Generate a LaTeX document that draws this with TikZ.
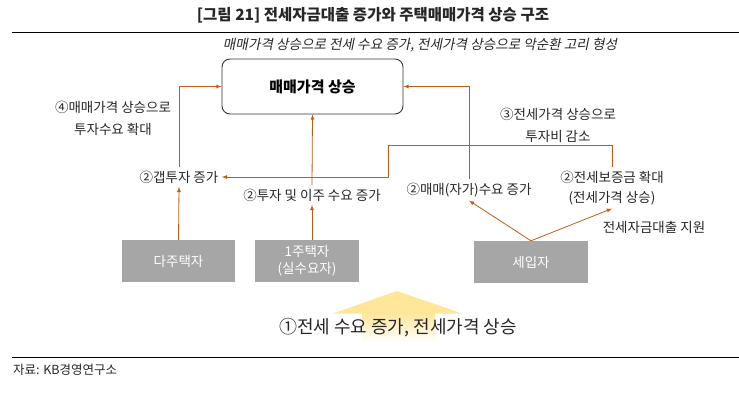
\documentclass[tikz,border=0pt]{standalone}
\usepackage{fontspec}
\setmainfont{Noto Sans CJK KR}
\newfontfamily\slfont[FakeSlant=0.2]{Noto Sans CJK KR}
\usepackage{tikz}
\usetikzlibrary{shapes.geometric, arrows}
\definecolor{lineorange}{RGB}{197,90,17}
\definecolor{boxgray}{RGB}{166,166,166}
\definecolor{upyellow}{RGB}{255,230,153}
\tikzstyle{arrow} = [->,>=latex,draw=lineorange,line width=0.8pt]
\tikzstyle{graybox} = [fill=boxgray,text=white,minimum height=42pt,inner sep=0pt,align=center,font=\fontsize{13.5}{17}\selectfont]
\tikzstyle{lbl} = [text=black!85,align=center,font=\fontsize{13.5}{22}\selectfont]

\begin{document}
\begin{tikzpicture}[x=1pt,y=-1pt]
\useasboundingbox (0,0) rectangle (739,402);
\node[text=black!85,font=\bfseries\fontsize{15.5}{18}\selectfont] (title) at (373,15) {[그림 21] 전세자금대출 증가와 주택매매가격 상승 구조};
\draw[line width=1pt] (12,32) -- (739,32);
\node[text=black!85,font=\slfont\fontsize{13.6}{15}\selectfont] (sub) at (420,45) {매매가격 상승으로 전세 수요 증가, 전세가격 상승으로 악순환 고리 형성};
\node[draw=black!80,line width=0.9pt,rounded corners=8pt,minimum width=181pt,minimum height=55pt,font=\bfseries\fontsize{15}{16}\selectfont] (price) at (312.5,86.5) {매매가격 상승};
\node[lbl] (invlbl) at (113,118) {④매매가격 상승으로\\투자수요 확대};
\node[lbl] (costlbl) at (558,125) {③전세가격 상승으로\\투자비 감소};
\node[lbl] (gap) at (179,177) {②갭투자 증가};
\node[lbl] (invest) at (312,195) {②투자 및 이주 수요 증가};
\node[lbl] (buy) at (469,190) {②매매(자가)수요 증가};
\node[lbl,font=\fontsize{13.5}{20}\selectfont] (deposit) at (612,188) {②전세보증금 확대\\(전세가격 상승)};
\node[lbl] (loanlbl) at (654,227) {전세자금대출 지원};
\node[graybox,minimum width=113pt] (multi) at (178.5,261) {다주택자};
\node[graybox,minimum width=104pt] (one) at (307,261) {1주택자\\(실수요자)};
\node[graybox,minimum width=114pt] (tenant) at (531,262) {세입자};
\coordinate (bend) at (388,145);
% 순환 화살표
\draw[arrow] (gap.north) |- (price.west);
\draw[arrow] (multi.north) -- (gap.south);
\draw[arrow] (invest.north) -- (price.south);
\draw[arrow] (one.north -| invest.south) -- (invest.south);
\draw[arrow] (deposit.north) |- (bend) |- (gap.east);
\draw[arrow] (buy.north) |- (price.east);
\draw[arrow] (tenant.north) -- (buy.south);
\draw[arrow] (tenant.north) -- (deposit.south);
% 아래 노란 화살표
\fill[upyellow] (397,291) -- (462,313.5) -- (333,313.5) -- cycle;
\shade[top color=upyellow,bottom color=white] (362,313) rectangle (435,342);
\node[text=black!85,font=\fontsize{18}{20}\selectfont] (jeonse) at (398,328) {①전세 수요 증가, 전세가격 상승};
\draw[line width=1pt] (12,357) -- (739,357);
\node[anchor=west,inner sep=0pt,text=black!85,font=\fontsize{12.5}{14}\selectfont] (src) at (13,370) {자료: KB경영연구소};
\end{tikzpicture}
\end{document}
